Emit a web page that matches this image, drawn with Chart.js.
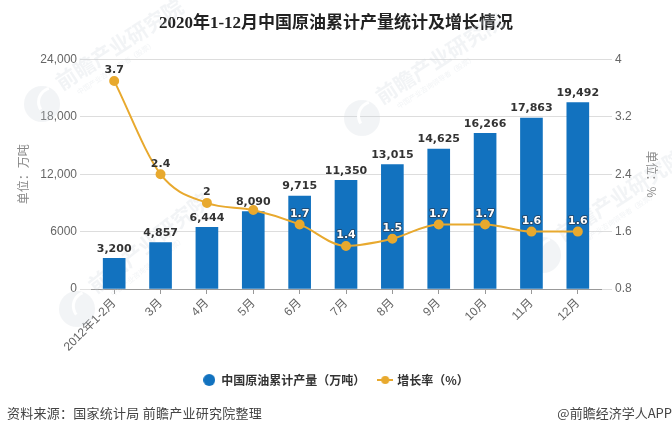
<!DOCTYPE html>
<html>
<head>
<meta charset="utf-8">
<style>
  html, body { margin: 0; padding: 0; background: #fff; }
  #wrap { position: relative; width: 672px; height: 434px; overflow: hidden; }
  .nota { position: absolute; top: 404px; font: 13px "Noto Sans CJK SC", sans-serif; color: #444; white-space: nowrap; line-height: 17px; }
</style>
<script src="https://cdn.jsdelivr.net/npm/chart.js@4"></script>
</head>
<body>
<div id="wrap">
  <canvas id="grafico" width="672" height="434"></canvas>
  <div class="nota" style="left:7px;letter-spacing:0.25px">资料来源：国家统计局 前瞻产业研究院整理</div>
  <div class="nota" style="right:0">@前瞻经济学人APP</div>
</div>
<script>
const meses = ['2012年1-2月', '3月', '4月', '5月', '6月', '7月', '8月', '9月', '10月', '11月', '12月'];
const producao = [3200, 4857, 6444, 8090, 9715, 11350, 13015, 14625, 16266, 17863, 19492];
const crescimento = [3.7, 2.4, 2, 1.9, 1.7, 1.4, 1.5, 1.7, 1.7, 1.6, 1.6];
const ticksProducao = ['0', '6000', '12,000', '18,000', '24,000'];
const ticksCrescimento = ['0.8', '1.6', '2.4', '3.2', '4'];

const AZUL = '#1272bf';
const LARANJA = '#e8a92e';

// marca d'agua do fundo
const marcas = [
    { x: 42, y: 104, ang: -33 },
    { x: 362, y: 118, ang: -33 },
    { x: 77, y: 309, ang: -38 },
    { x: 543, y: 255, ang: -33 }
];

const marcaDagua = {
    id: 'marcaDagua',
    beforeDatasetsDraw(chart) {
        const ctx = chart.ctx;
        marcas.forEach(m => {
            ctx.save();
            ctx.translate(m.x, m.y);
            ctx.fillStyle = 'rgba(205,210,220,0.25)';
            ctx.beginPath();
            ctx.arc(0, 0, 18, 0, Math.PI * 2);
            ctx.fill();
            ctx.rotate(m.ang * Math.PI / 180);
            ctx.strokeStyle = '#fff';
            ctx.lineWidth = 3;
            ctx.beginPath();
            ctx.arc(10, 4, 14, Math.PI, Math.PI * 1.6);
            ctx.stroke();
            ctx.font = 'bold 21px "Noto Sans CJK SC"';
            ctx.textBaseline = 'middle';
            ctx.fillText('前瞻产业研究院', 24, -8);
            ctx.font = '7px "Noto Sans CJK SC"';
            ctx.fillText('中国产业咨询领导者（股票）', 36, 10);
            ctx.restore();
        });
    }
};

// rotulos de valor em cima das barras e dos pontos
const rotulos = {
    id: 'rotulos',
    afterDatasetsDraw(chart) {
        const ctx = chart.ctx;
        ctx.save();
        ctx.textAlign = 'center';
        ctx.textBaseline = 'bottom';
        ctx.lineJoin = 'round';
        ctx.font = 'bold 11px "DejaVu Sans"';
        ctx.fillStyle = '#333';
        chart.getDatasetMeta(0).data.forEach((bar, i) => {
            ctx.fillText(producao[i].toLocaleString('en-US'), bar.x, bar.y - 4);
        });
        chart.getDatasetMeta(1).data.forEach((pt, i) => {
            if (i === 3) return; // 5月 nao tem rotulo visivel
            const texto = String(crescimento[i]);
            if (i < 3) {
                ctx.fillStyle = '#333';
            } else {
                ctx.lineWidth = 1.6;
                ctx.strokeStyle = '#24405c';
                ctx.strokeText(texto, pt.x, pt.y - 5);
                ctx.fillStyle = '#fff';
            }
            ctx.fillText(texto, pt.x, pt.y - 5);
        });
        ctx.restore();
    }
};

// simbolo da legenda: linha com bolinha
function simboloLinha() {
    const c = document.createElement('canvas');
    c.width = 16; c.height = 10;
    const g = c.getContext('2d');
    g.strokeStyle = LARANJA;
    g.fillStyle = LARANJA;
    g.lineWidth = 2;
    g.beginPath(); g.moveTo(0, 5); g.lineTo(16, 5); g.stroke();
    g.beginPath(); g.arc(8, 5, 4, 0, Math.PI * 2); g.fill();
    return c;
}

function simboloBarra() {
    const c = document.createElement('canvas');
    c.width = 12; c.height = 12;
    const g = c.getContext('2d');
    g.fillStyle = AZUL;
    g.beginPath(); g.arc(6, 6, 6, 0, Math.PI * 2); g.fill();
    return c;
}

const simbolos = [simboloBarra(), simboloLinha()];

new Chart(document.getElementById('grafico').getContext('2d'), {
    data: {
        labels: meses,
        datasets: [
            { type: 'bar', label: '中国原油累计产量（万吨）', data: producao, backgroundColor: AZUL, barThickness: 22, yAxisID: 'y', order: 2 },
            { type: 'line', label: '增长率（%）', data: crescimento, borderColor: LARANJA, backgroundColor: LARANJA, borderWidth: 2, pointRadius: 4, pointBackgroundColor: LARANJA, pointBorderColor: LARANJA, cubicInterpolationMode: 'monotone', yAxisID: 'y2', order: 1 }
        ]
    },
    options: {
        responsive: false,
        animation: false,
        devicePixelRatio: 1,
        layout: { padding: { left: 0, right: 0, top: 0, bottom: 38 } },
        plugins: {
            tooltip: { enabled: false },
            title: {
                display: true,
                text: '2020年1-12月中国原油累计产量统计及增长情况',
                color: '#222',
                font: { family: '"Liberation Serif", "Noto Sans CJK SC"', size: 17, weight: 'bold' },
                padding: { top: 13, bottom: 26 }
            },
            legend: {
                position: 'bottom',
                labels: {
                    usePointStyle: true,
                    color: '#333',
                    font: { family: '"Noto Sans CJK SC"', size: 12, weight: 'bold' },
                    padding: 14,
                    generateLabels: chart => chart.data.datasets.map((d, i) => ({
                        text: d.label,
                        pointStyle: simbolos[i],
                        fontColor: '#333',
                        datasetIndex: i
                    }))
                }
            }
        },
        scales: {
            x: {
                offset: true,
                afterFit: s => { s.height = 71; },
                grid: { drawOnChartArea: false, tickLength: 5, color: '#999', offset: false },
                border: { color: '#999' },
                ticks: { color: '#666', minRotation: 45, maxRotation: 45, autoSkip: false, padding: 2, font: { family: '"Liberation Sans", "Noto Sans CJK SC"', size: 12 } }
            },
            y: {
                position: 'left',
                min: 0, max: 24000,
                afterFit: s => { s.width = 91; },
                afterBuildTicks: s => { s.ticks = ticksProducao.map((_, i) => ({ value: i * 6000 })); },
                grid: { color: '#ddd', tickLength: 11, tickColor: '#ddd' },
                border: { display: false },
                title: { display: true, text: '单位：万吨', color: '#888', font: { family: '"Noto Sans CJK SC"', size: 12 }, padding: { top: 16, bottom: 0 } },
                ticks: { color: '#666', padding: 3, font: { family: '"Liberation Sans"', size: 12 }, callback: (v, i) => ticksProducao[i] }
            },
            y2: {
                position: 'right',
                min: 0.8, max: 4,
                afterFit: s => { s.width = 71; },
                afterBuildTicks: s => { s.ticks = ticksCrescimento.map(t => ({ value: Number(t) })); },
                grid: { drawOnChartArea: false, tickLength: 11, tickColor: '#ddd' },
                border: { display: false },
                title: { display: true, text: '单位：%', color: '#888', font: { family: '"Noto Sans CJK SC"', size: 12 }, padding: { top: 13, bottom: 0 } },
                ticks: { color: '#666', padding: 3, font: { family: '"Liberation Sans"', size: 12 }, callback: (v, i) => ticksCrescimento[i] }
            }
        }
    },
    plugins: [marcaDagua, rotulos]
});
</script>
</body>
</html>
